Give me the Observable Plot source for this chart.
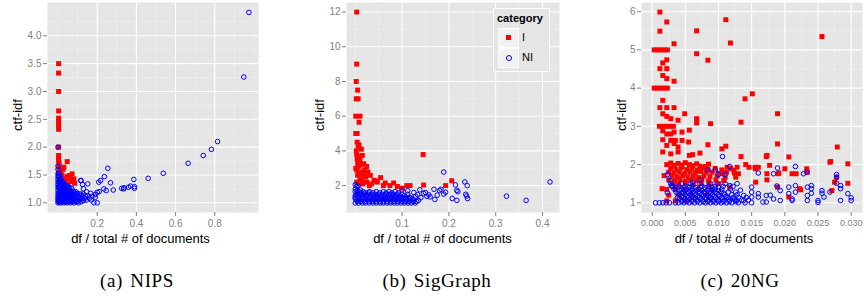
<!DOCTYPE html>
<html><head><meta charset="utf-8">
<script src="https://cdn.jsdelivr.net/npm/d3@7"></script>
<script src="https://cdn.jsdelivr.net/npm/@observablehq/plot@0.6"></script>
<style>
body{margin:0;background:#fff;}
#root{position:relative;width:864px;height:296px;overflow:hidden;font-family:"Liberation Sans",Arial,sans-serif;background:#fff;}
.panel{position:absolute;top:0;}
.ytitle{position:absolute;font-size:13px;color:#000;transform:translate(-50%,-50%) rotate(-90deg);white-space:nowrap;}
.xtitle{position:absolute;font-size:13px;color:#000;transform:translate(-50%,-50%);white-space:nowrap;}
.cap{position:absolute;font-family:"Liberation Serif",serif;font-size:19px;color:#000;transform:translate(-50%,-50%);white-space:nowrap;letter-spacing:0.6px;word-spacing:2px;}
.legend{position:absolute;left:493px;top:8px;width:55px;height:62px;border:1px solid #fff;background:#e5e5e5;}
.legend .lt{position:absolute;left:3px;top:3px;font-size:11px;font-weight:bold;color:#000;}
.legend .key{position:absolute;left:4px;width:19px;height:18px;background:#f2f2f2;border:1px solid #fff;}
.legend .lab{position:absolute;left:28px;font-size:11px;color:#000;}
</style></head>
<body><div id="root"></div>
<script>
// ---------------- data ----------------
const categories = ["I", "NI"];
const panelNames = ["(a) NIPS", "(b) SigGraph", "(c) 20NG"];
const xTitle = "df / total # of documents";
const yTitle = "ctf-idf";

// NIPS
const nipsI = [[0.003,3.5],[0.003,3.33],[0.003,3.0],[0.003,2.65],[0.003,2.52],[0.003,2.47],[0.003,2.42],[0.003,2.37],[0.003,2.32],[0.003,2.0],[0.003,1.85],[0.003,1.79],[0.003,1.75],[0.006,1.7],[0.004,1.65],[0.008,1.6],[0.003,1.55],[0.047,1.74],[0.03,1.64],[0.026,1.6],[0.072,1.52],[0.058,1.49],[0.081,1.43],[0.067,1.43],[0.04,1.43],[0.017,1.4],[0.035,1.4],[0.05,1.33],[0.02,1.5],[0.012,1.55],[0.045,1.47],[0.065,1.38],[0.085,1.35]];
const nipsNI = [[0,1],[0,1.04],[0,1.08],[0,1.12],[0,1.17],[0,1.22],[0,1.27],[0,1.32],[0,1.37],[0,1.42],[0,1.47],[0,1.52],[0,1.6],[0,1.66],[0,2.0],
[0.006,1.01],[0.006,1.06],[0.007,1.11],[0.006,1.15],[0.007,1.2],[0.006,1.26],[0.007,1.31],[0.006,1.36],[0.007,1.41],[0.006,1.47],[0.008,1.53],
[0.013,1.0],[0.014,1.04],[0.012,1.09],[0.014,1.14],[0.013,1.19],[0.015,1.24],[0.013,1.29],[0.014,1.34],[0.012,1.39],[0.015,1.44],
[0.021,1.02],[0.02,1.07],[0.022,1.12],[0.021,1.17],[0.02,1.22],[0.022,1.27],[0.021,1.33],[0.023,1.38],
[0.029,1.0],[0.03,1.05],[0.028,1.1],[0.031,1.15],[0.029,1.2],[0.03,1.26],[0.032,1.31],[0.028,1.36],
[0.038,1.01],[0.037,1.06],[0.039,1.11],[0.038,1.16],[0.04,1.21],[0.037,1.26],[0.041,1.32],
[0.046,1.0],[0.047,1.05],[0.045,1.1],[0.048,1.15],[0.046,1.2],[0.049,1.25],[0.051,1.3],
[0.055,1.02],[0.056,1.07],[0.054,1.12],[0.057,1.17],[0.056,1.22],[0.059,1.27],
[0.064,1.0],[0.065,1.05],[0.063,1.1],[0.066,1.15],[0.068,1.2],[0.07,1.26],
[0.074,1.01],[0.073,1.06],[0.076,1.11],[0.075,1.16],[0.078,1.21],
[0.083,1.0],[0.085,1.05],[0.084,1.1],[0.087,1.15],[0.09,1.2],
[0.094,1.02],[0.096,1.07],[0.098,1.12],[0.1,1.17],
[0.105,1.0],[0.108,1.05],[0.11,1.1],[0.113,1.16],
[0.118,1.02],[0.122,1.07],[0.125,1.12],[0.13,1.04],[0.137,1.08],[0.118,1.4],[0.125,1.33],[0.13,1.25],[0.14,1.12],[0.145,1.05],[0.152,1.34],[0.13,1.16],
[0.003,1.02],[0.003,1.1],[0.004,1.19],[0.003,1.29],[0.004,1.39],[0.003,1.49],
[0.01,1.03],[0.009,1.13],[0.01,1.23],[0.009,1.33],[0.01,1.43],
[0.017,1.02],[0.018,1.11],[0.017,1.2],[0.018,1.3],[0.017,1.36],
[0.025,1.04],[0.026,1.13],[0.025,1.23],[0.026,1.31],
[0.034,1.03],[0.033,1.12],[0.035,1.22],[0.034,1.29],
[0.042,1.03],[0.043,1.13],[0.042,1.23],[0.044,1.28],
[0.051,1.04],[0.05,1.13],[0.052,1.2],[0.053,1.26],
[0.06,1.03],[0.06,1.1],[0.061,1.2],
[0.069,1.03],[0.07,1.12],[0.072,1.18],
[0.079,1.04],[0.08,1.13],[0.081,1.19],
[0.089,1.03],[0.091,1.1],[0.093,1.16],
[0.1,1.03],[0.102,1.1],[0.115,1.08],[0.12,1.14],
[0.254,1.62],[0.237,1.47],[0.208,1.37],[0.217,1.4],[0.268,1.36],[0.115,1.4],[0.387,1.42],[0.46,1.44],[0.537,1.53],[0.664,1.71],[0.741,1.85],[0.783,1.96],[0.814,2.1],[0.948,3.26],[0.974,4.42],
[0.234,1.25],[0.246,1.22],[0.282,1.23],[0.325,1.26],[0.337,1.27],[0.36,1.28],[0.37,1.3],[0.39,1.29],[0.39,1.26],[0.335,1.25],[0.2,1.19],[0.19,1.1],[0.2,1.0],[0.183,1.0],[0.152,1.13],[0.167,1.17],[0.175,1.12],[0.16,1.08],[0.145,1.2],[0.17,1.05],[0.21,1.2],[0.19,1.15]];
const nipsXTicks = [0.2, 0.4, 0.6, 0.8];
const nipsXMinor = [0, 0.1, 0.3, 0.5, 0.7, 0.9, 1.0];
const nipsYTicks = [1.0, 1.5, 2.0, 2.5, 3.0, 3.5, 4.0];
const nipsYMinor = [1.25, 1.75, 2.25, 2.75, 3.25, 3.75, 4.25, 4.5];

// SigGraph
const sigI = [[0.003,12],[0.003,9],[0.002,8],[0.005,7.5],[0.002,7],[0.006,7],[0.001,6],[0.01,6],[0.008,5.65],[0.001,5],[0.004,5],[0.004,4.5],[0.008,4.35],[0.002,4],[0.013,4.1],[0.015,3.74],[0.004,3.55],[0.01,3.45],[0.018,3.26],[0.024,3.1],[0.007,3.1],[0.001,3.0],[0.013,2.78],[0.027,2.78],[0.02,2.82],[0.032,2.59],[0.022,2.5],[0.005,2.6],[0.01,2.4],[0.04,2.3],[0.054,2.46],[0.047,2.2],[0.064,2.15],[0.082,2.15],[0.074,2.0],[0.11,2.0],[0.117,2.0],[0.145,3.79],[0.146,2.03],[0.193,2.0],[0.206,2.28],[0.044,2.27],[0.003,2.2],[0.015,2.3],[0.025,2.2],[0.035,2.1],[0.06,2.0],[0.09,1.95],[0.1,1.85],[0.03,2.0],[0.016,2.1],[0.008,2.1],[0.006,4.2],[0.003,3.8],[0.009,3.7],[0.005,3.3],[0.012,3.2],[0.003,2.9],[0.018,2.6],[0.02,2.9],[0.008,2.7]];
const sigNI = [[0,1],[0.007,1],[0.015,1],[0.022,1],[0.03,1],[0.038,1],[0.045,1],[0.053,1],[0.06,1],[0.068,1],[0.075,1],[0.083,1],[0.09,1],[0.098,1],[0.105,1],[0.113,1],[0.12,1],[0.128,1],
[0.004,1.08],[0.012,1.08],[0.02,1.08],[0.028,1.08],[0.036,1.08],[0.044,1.08],[0.052,1.08],[0.06,1.08],[0.068,1.08],[0.076,1.08],[0.084,1.08],[0.092,1.08],[0.1,1.08],[0.108,1.08],[0.116,1.08],[0.124,1.08],[0.131,1.08],
[0.003,1.17],[0.01,1.17],[0.018,1.17],[0.026,1.17],[0.034,1.17],[0.041,1.17],[0.049,1.17],[0.056,1.17],[0.064,1.17],[0.072,1.17],[0.079,1.17],[0.087,1.17],[0.094,1.17],[0.102,1.17],[0.11,1.17],[0.117,1.17],[0.125,1.17],
[0,1.25],[0.007,1.25],[0.014,1.25],[0.021,1.25],[0.029,1.25],[0.037,1.25],[0.045,1.25],[0.052,1.25],[0.06,1.25],[0.067,1.25],[0.075,1.25],[0.083,1.25],[0.091,1.25],[0.098,1.25],[0.106,1.25],[0.114,1.25],[0.122,1.25],
[0,1.33],[0.008,1.33],[0.016,1.33],[0.023,1.33],[0.031,1.33],[0.039,1.33],[0.046,1.33],[0.054,1.33],[0.062,1.33],[0.069,1.33],[0.077,1.33],[0.085,1.33],[0.093,1.33],[0.1,1.33],[0.108,1.33],[0.116,1.33],
[0,1.42],[0.007,1.42],[0.015,1.42],[0.023,1.42],[0.031,1.42],[0.039,1.42],[0.047,1.42],[0.055,1.42],[0.063,1.42],[0.071,1.42],[0.079,1.42],[0.087,1.42],[0.095,1.42],[0.105,1.42],
[0.003,1.5],[0.011,1.5],[0.019,1.5],[0.027,1.5],[0.035,1.5],[0.043,1.5],[0.05,1.5],[0.058,1.5],[0.066,1.5],[0.074,1.5],[0.082,1.5],[0.09,1.5],[0.1,1.5],[0.112,1.5],
[0.004,1.58],[0.012,1.58],[0.021,1.58],[0.03,1.58],[0.038,1.58],[0.052,1.58],[0.066,1.58],[0.078,1.58],[0.092,1.58],
[0,1.65],[0.008,1.65],[0.017,1.65],[0.03,1.65],[0.045,1.65],[0.06,1.65],[0.072,1.65],[0.085,1.65],
[0.0,1.8],[0.003,1.95],[0.0,2.05],[0.006,2.0],[0.004,1.72],[0.011,1.74],
[0.189,2.78],[0.234,2.21],[0.239,2.0],[0.214,2.04],[0.217,1.73],[0.219,1.65],[0.416,2.21],[0.323,1.39],[0.365,1.15],[0.236,1.5],[0.238,1.4],[0.24,1.25],[0.207,1.26],[0.217,1.15],[0.189,1.51],[0.175,1.45],[0.17,1.2],[0.18,1.72],[0.183,1.79],[0.193,1.62],[0.168,1.79],[0.157,1.47],[0.153,1.38],[0.146,1.55],[0.138,1.76],[0.129,1.38],[0.133,1.48],[0.118,1.28],[0.14,1.3],[0.135,1.15],[0.15,1.6],[0.16,1.35],[0.125,1.6],[0.112,1.7],[0.1,1.75]];
const sigXTicks = [0.1, 0.2, 0.3, 0.4];
const sigXMinor = [0, 0.05, 0.15, 0.25, 0.35];
const sigYTicks = [2, 4, 6, 8, 10, 12];
const sigYMinor = [1, 3, 5, 7, 9, 11];

// 20NG
const ngI = [[0.00116,5.99],[0.0022,5.73],[0.00116,5.49],[0.0067,5.5],[0.0111,5.79],[0.0118,5.18],[0.0256,5.35],[0.0033,5.16],
[0.0003,5],[0.0008,5],[0.0013,5],[0.0018,5],[0.0023,5],
[0.0067,4.9],[0.0084,4.73],[0.0022,4.74],[0.0016,4.66],[0.00116,4.51],[0.0022,4.51],[0.0016,4.33],[0.0022,4.25],[0.0033,4.18],
[0.0003,4],[0.0008,4],[0.0013,4],[0.0018,4],[0.0023,4],
[0.0016,3.68],[0.0151,3.85],[0.014,3.72],
[0.00116,3.49],[0.0022,3.49],[0.0033,3.49],
[0.0016,3.33],[0.0022,3.26],[0.0028,3.2],[0.0049,3.33],[0.0039,3.16],[0.0067,3.2],[0.0067,3.09],[0.0088,3.07],[0.0134,3.11],[0.0189,3.33],
[0.0011,3],[0.0016,3],[0.0022,3],[0.0027,3],[0.0032,3],
[0.0016,2.88],[0.0022,2.8],[0.0028,2.8],[0.0033,2.85],[0.0045,2.85],[0.0056,2.9],
[0.0016,2.65],[0.0028,2.63],[0.0035,2.63],[0.0045,2.63],[0.0055,2.59],
[0.0022,2.5],[0.0033,2.55],[0.0039,2.46],[0.0084,2.52],[0.0105,2.41],[0.0111,2.48],[0.0189,2.54],[0.0279,2.46],
[0.0016,2.33],[0.0028,2.28],[0.0039,2.33],[0.0056,2.24],[0.0061,2.26],[0.0072,2.3],[0.0134,2.21],[0.0173,2.24],[0.0206,2.2],[0.0268,2.06],[0.0295,2.02],
[0.0022,2],[0.0028,2.04],[0.0033,1.98],[0.0039,2.03],[0.0045,1.99],[0.005,2.05],[0.0056,2],[0.0061,1.97],[0.0067,2.02],[0.0072,1.96],[0.008,1.95],[0.0085,2.01],
[0.0141,2.0],[0.0146,1.93],[0.0156,1.89],[0.016,1.93],[0.0173,1.76],[0.0177,1.98],[0.019,1.76],[0.02,1.89],[0.0211,1.76],[0.0233,1.89],[0.0234,1.8],[0.0222,1.37],[0.0189,1.41],[0.0206,1.15],[0.0271,1.32],[0.0275,1.54],[0.0295,1.51],[0.0278,1.67],[0.0156,1.54],[0.0117,1.41],[0.0126,1.67],[0.0123,1.85],[0.0106,1.76],[0.0113,1.93],[0.0128,1.93],[0.013,1.76],
[0.0172,2.21],[0.0155,1.93],[0.0269,2.08],[0.0224,1.34],[0.0217,1.76],[0.0191,1.78],[0.0173,1.6],
[0.0015,1.37],[0.0018,1.71],
[0.0028,1.9],[0.0036,1.88],[0.0044,1.92],[0.0052,1.87],[0.006,1.9],[0.0068,1.86],[0.0076,1.91],[0.0084,1.87],[0.0095,1.9],[0.0105,1.86],[0.0118,1.9],
[0.0025,1.8],[0.0033,1.78],[0.0041,1.81],[0.0049,1.77],[0.0057,1.8],[0.0065,1.78],[0.0073,1.82],[0.0081,1.79],[0.009,1.8],[0.01,1.77],[0.0112,1.8],[0.0124,1.78],
[0.003,1.7],[0.0038,1.68],[0.0046,1.71],[0.0054,1.67],[0.0062,1.7],[0.007,1.66],[0.0078,1.7],[0.0087,1.68],[0.0098,1.7],[0.011,1.66],
[0.0025,1.6],[0.0034,1.58],[0.0042,1.61],[0.005,1.57],[0.0058,1.6],[0.0066,1.58],[0.0075,1.61],[0.0085,1.57],[0.0096,1.6],[0.0108,1.58],
[0.0032,1.5],[0.004,1.48],[0.005,1.5],[0.0062,1.47],[0.0074,1.5],[0.0086,1.48],[0.01,1.5],
[0.0022,1.35],[0.0035,1.35],[0.0048,1.35],[0.007,1.35],[0.009,1.35],
[0.0025,1.2],[0.004,1.2],[0.006,1.2],[0.0082,1.2],
[0.0022,1.05],[0.0035,1.05],[0.005,1.05]];
const ngNI = [[0.0005,1],[0.0011,1],[0.0016,1],[0.0021,1],[0.0026,1],[0.0035,1],
[0.004,1],[0.0048,1],[0.0056,1],[0.0064,1],[0.0072,1],[0.008,1],[0.0088,1],[0.0096,1],[0.0104,1],[0.0112,1],[0.012,1],[0.013,1],[0.014,1],[0.015,1],
[0.0044,1.03],[0.0052,1.03],[0.006,1.03],[0.0068,1.03],[0.0077,1.03],[0.0084,1.03],[0.0092,1.03],[0.01,1.03],[0.0108,1.03],[0.0116,1.03],[0.0126,1.03],
[0.0045,1.07],[0.0053,1.07],[0.006,1.07],[0.0068,1.07],[0.0076,1.07],[0.0085,1.07],[0.0092,1.07],[0.01,1.07],[0.0108,1.07],[0.0117,1.07],[0.0125,1.07],[0.0135,1.07],[0.0145,1.07],
[0.0041,1.1],[0.0049,1.1],[0.0057,1.1],[0.0065,1.1],[0.0073,1.1],[0.0081,1.1],[0.0089,1.1],[0.0098,1.1],[0.0106,1.1],[0.0115,1.1],[0.0124,1.1],
[0.0038,1.14],[0.0047,1.14],[0.0055,1.14],[0.0063,1.14],[0.0071,1.14],[0.008,1.14],[0.0088,1.14],[0.0096,1.14],[0.0105,1.14],[0.0113,1.14],[0.0122,1.14],[0.013,1.14],[0.0142,1.14],
[0.0045,1.17],[0.0053,1.17],[0.0061,1.17],[0.0069,1.17],[0.0077,1.17],[0.0085,1.17],[0.0093,1.17],[0.0101,1.17],[0.0111,1.17],
[0.0042,1.21],[0.005,1.21],[0.0058,1.21],[0.0066,1.21],[0.0074,1.21],[0.0083,1.21],[0.0091,1.21],[0.01,1.21],[0.0109,1.21],[0.012,1.21],[0.0128,1.21],
[0.0039,1.25],[0.0047,1.25],[0.0055,1.25],[0.0064,1.25],[0.0072,1.25],[0.008,1.25],[0.0089,1.25],[0.0098,1.25],[0.0108,1.25],
[0.0036,1.28],[0.0046,1.28],[0.0055,1.28],[0.0062,1.28],[0.0071,1.28],[0.0079,1.28],[0.0087,1.28],[0.0095,1.28],[0.0104,1.28],[0.0115,1.28],[0.0126,1.28],
[0.0041,1.32],[0.0049,1.32],[0.0057,1.32],[0.0066,1.32],[0.0075,1.32],[0.0083,1.32],[0.0091,1.32],[0.01,1.32],
[0.0033,1.36],[0.0044,1.36],[0.0052,1.36],[0.006,1.36],[0.007,1.36],[0.0078,1.36],[0.0086,1.36],[0.0094,1.36],[0.0105,1.36],[0.0118,1.36],
[0.0036,1.4],[0.0047,1.4],[0.0056,1.4],[0.0066,1.4],[0.0079,1.4],[0.009,1.4],[0.01,1.4],
[0.003,1.43],[0.004,1.43],[0.005,1.43],[0.006,1.43],[0.0075,1.43],[0.0085,1.43],[0.0095,1.43],[0.0107,1.43],[0.0122,1.43],
[0.0028,1.5],[0.0045,1.5],[0.0058,1.5],[0.0072,1.5],[0.0088,1.5],[0.0098,1.5],[0.011,1.5],
[0.0106,2.21],[0.0117,1.95],[0.0095,1.86],[0.0084,1.86],[0.0073,1.61],[0.0061,1.54],[0.0023,1.74],[0.0027,1.58],[0.0029,1.45],[0.0023,1.26],[0.0031,1.43],
[0.01,1.74],[0.011,1.74],[0.016,1.78],[0.0183,1.76],[0.0189,1.91],[0.0216,1.95],[0.0228,1.76],[0.0233,1.8],
[0.0278,1.74],[0.0278,1.67],[0.0278,1.51],[0.0284,1.45],[0.0284,1.37],[0.0295,1.24],[0.03,1.13],[0.03,1.06],[0.0284,1.06],[0.0268,1.28],[0.0256,1.32],[0.0256,1.25],[0.0259,1.15],[0.025,1.06],[0.025,1.01],
[0.024,1.45],[0.024,1.37],[0.024,1.25],[0.0234,1.41],[0.0234,1.19],[0.0234,1.06],[0.0216,1.45],[0.0216,1.28],[0.0206,1.24],[0.0206,1.41],[0.0211,1.06],[0.0211,1.1],
[0.0193,1.06],[0.0193,1.32],[0.0188,1.44],[0.0183,1.1],[0.0178,1.2],[0.0172,1.19],[0.0172,1.02],[0.0167,1.02],[0.016,1.24],[0.016,1.15],
[0.015,1.41],[0.015,1.28],[0.015,1.15],[0.0138,1.19],[0.0138,1.06],[0.0128,1.06],[0.0128,1.5],[0.0117,1.45],[0.0133,1.33]];
const ngXTicks = [0.000, 0.005, 0.010, 0.015, 0.020, 0.025, 0.030];
const ngXMinor = [0.0025, 0.0075, 0.0125, 0.0175, 0.0225, 0.0275];
const ngYTicks = [1, 2, 3, 4, 5, 6];
const ngYMinor = [1.5, 2.5, 3.5, 4.5, 5.5];

// ---------------- drawing ----------------
const root = document.getElementById("root");
const FONT = "Liberation Sans, Arial, sans-serif";

function panel(cfg) {
  const chart = Plot.plot({
    width: cfg.width, height: 250,
    marginLeft: cfg.ml, marginRight: cfg.mr, marginTop: 2, marginBottom: 38,
    x: {domain: cfg.xDomain},
    y: {domain: cfg.yDomain},
    style: {background: "transparent", fontFamily: FONT, overflow: "visible"},
    marks: [
      Plot.frame({fill: "#e5e5e5"}),
      Plot.ruleX(cfg.xMinor, {stroke: "#f2f2f2", strokeWidth: 0.6}),
      Plot.ruleY(cfg.yMinor, {stroke: "#f2f2f2", strokeWidth: 0.6}),
      Plot.ruleX(cfg.xMajor, {stroke: "#ffffff", strokeWidth: 1.1}),
      Plot.ruleY(cfg.yMajor, {stroke: "#ffffff", strokeWidth: 1.1}),
      Plot.dot(cfg.I, {x: d => d[0], y: d => d[1], symbol: "square", r: 2.8, fill: "#ff0000"}),
      Plot.dot(cfg.NI, {x: d => d[0], y: d => d[1], symbol: "circle", r: 2.3, stroke: "#0000ff", strokeWidth: 1, fill: "none"}),
      Plot.axisX(cfg.xMajor, {tickSize: 4, tickPadding: 3, fontSize: cfg.fs, color: "#7f7f7f", tickFormat: cfg.xFmt, label: null}),
      Plot.axisY(cfg.yMajor, {tickSize: 4, tickPadding: 2, fontSize: 10, color: "#7f7f7f", tickFormat: cfg.yFmt, label: null})
    ]
  });
  chart.classList.add("panel");
  chart.style.left = cfg.left + "px";
  root.appendChild(chart);
}

function text(cls, str, x, y) {
  const d = document.createElement("div");
  d.className = cls; d.textContent = str;
  d.style.left = x + "px"; d.style.top = y + "px";
  root.appendChild(d);
}

panel({left: 0, width: 290, ml: 47, mr: 32, xDomain: [-0.0536, 1.023], yDomain: [0.826, 4.598],
  xMajor: nipsXTicks, xMinor: nipsXMinor, yMajor: nipsYTicks, yMinor: nipsYMinor,
  xFmt: d3.format(".1f"), yFmt: d3.format(".1f"), fs: 10, I: nipsI, NI: nipsNI});
panel({left: 290, width: 290, ml: 56, mr: 21, xDomain: [-0.0188, 0.4363], yDomain: [0.45, 12.55],
  xMajor: sigXTicks, xMinor: sigXMinor, yMajor: sigYTicks, yMinor: sigYMinor,
  xFmt: d3.format(".1f"), yFmt: d3.format("d"), fs: 10, I: sigI, NI: sigNI});
panel({left: 580, width: 284, ml: 61, mr: 2, xDomain: [-0.00161, 0.03171], yDomain: [0.746, 6.24],
  xMajor: ngXTicks, xMinor: ngXMinor, yMajor: ngYTicks, yMinor: ngYMinor,
  xFmt: d3.format(".3f"), yFmt: d3.format("d"), fs: 9, I: ngI, NI: ngNI});

// axis titles
[17, 319, 621].forEach(x => text("ytitle", yTitle, x, 115));
[140.5, 442.5, 744].forEach(x => text("xtitle", xTitle, x, 238));
// captions
[137, 437, 740].forEach((x, i) => text("cap", panelNames[i], x, 281));

// legend
const lg = document.createElement("div");
lg.className = "legend";
lg.innerHTML = '<div class="lt">category</div>' +
  '<div class="key" style="top:19px"><div style="position:absolute;left:7px;top:6px;width:5px;height:5px;background:#ff0000"></div></div>' +
  '<div class="key" style="top:39px"><div style="position:absolute;left:6.5px;top:6px;width:4px;height:4px;border:1px solid #0000ff;border-radius:50%"></div></div>' +
  '<div class="lab" style="top:22px">' + categories[0] + '</div>' +
  '<div class="lab" style="top:42px">' + categories[1] + '</div>';
root.appendChild(lg);
</script></body></html>
